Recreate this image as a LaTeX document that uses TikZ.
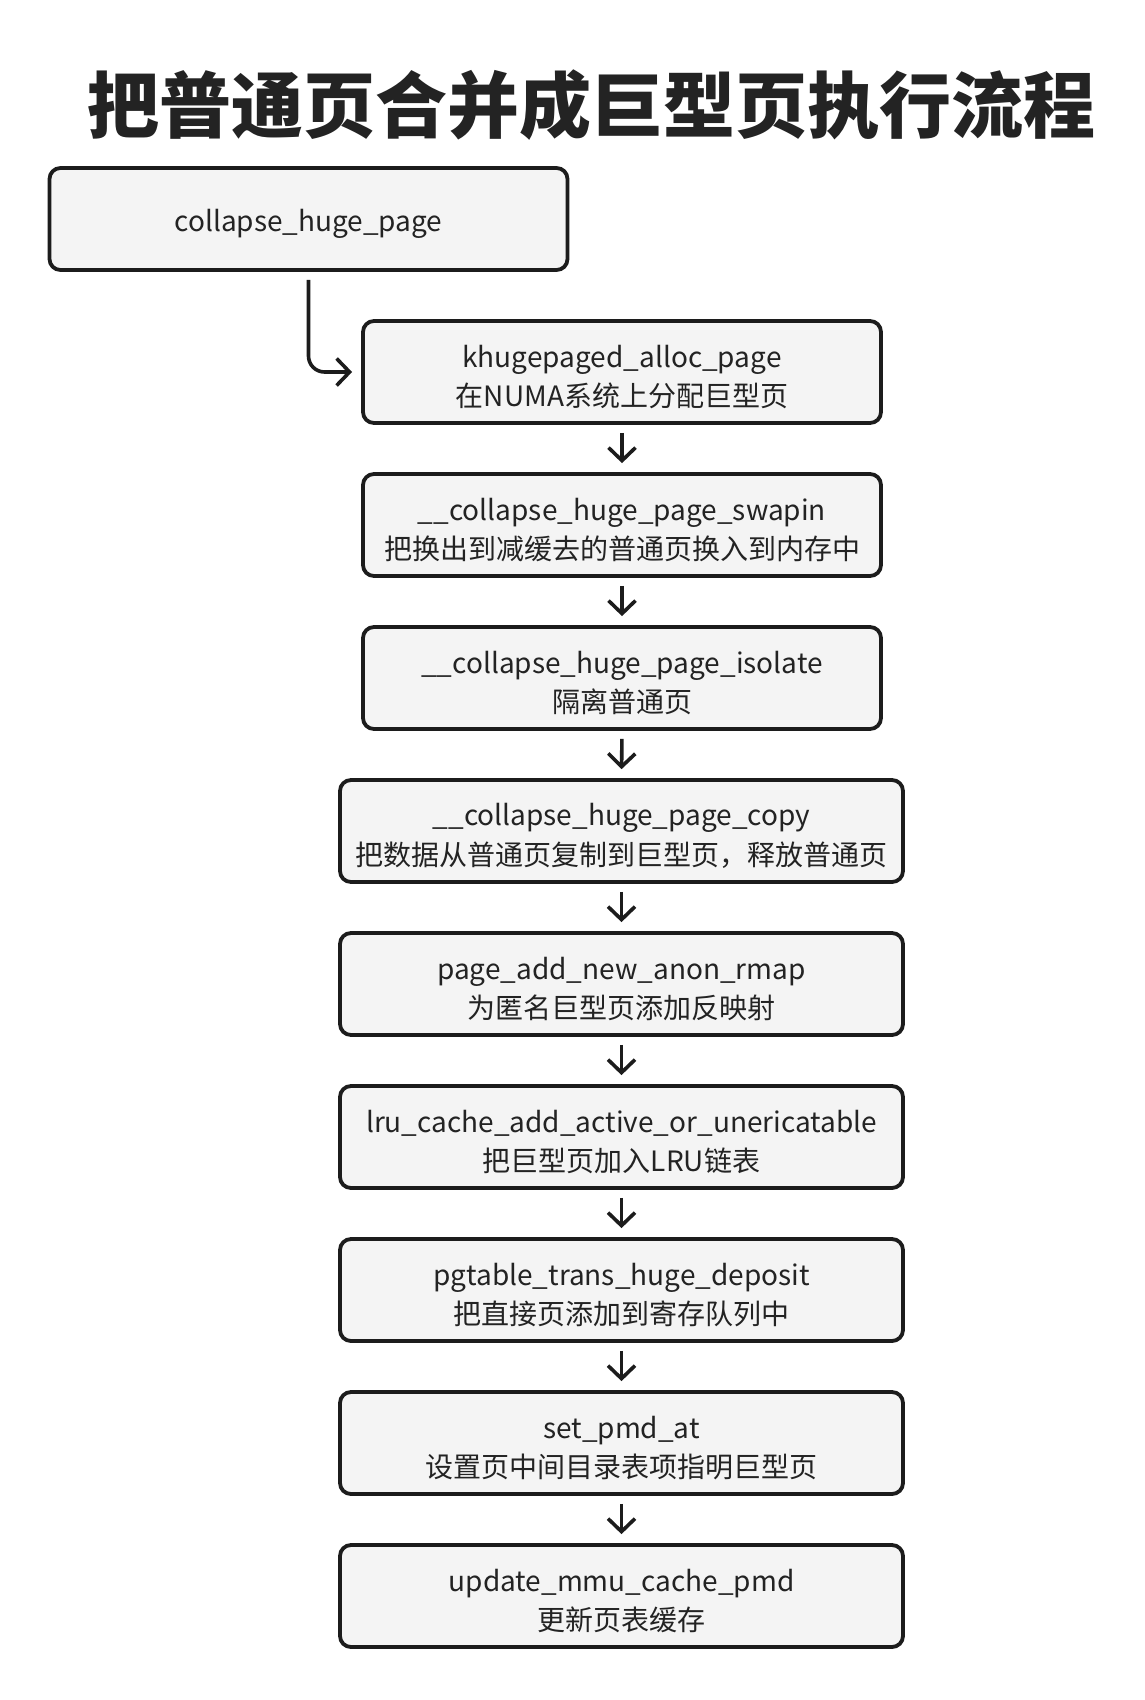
\documentclass[tikz,border=0pt]{standalone}
\usepackage{fontspec}
\setmainfont{Noto Sans CJK SC}
\usetikzlibrary{arrows.meta}
\definecolor{boxfill}{HTML}{F4F4F4}
\definecolor{ink}{HTML}{1C1C1C}
\definecolor{txt}{HTML}{232323}
% a rounded step box with its caption set slightly below the centre
\newcommand\stepnode[4]{%
  \node[#1] (#2) at (#3) {};
  \node[boxtext] (#2t) at ([yshift=-5pt]#2.center) {#4};}
\begin{document}
\begin{tikzpicture}[x=1pt,y=-1pt,
  stepbox/.style={draw=ink, line width=3.8pt, fill=boxfill, rounded corners=11pt,
    minimum height=102pt, inner sep=0pt},
  narrowbox/.style={stepbox, minimum width=518pt},
  widebox/.style={stepbox, minimum width=563pt},
  boxtext/.style={align=center, text=txt, inner sep=0pt,
    font=\fontsize{28}{39.5}\selectfont},
  flow/.style={draw=ink, line width=3.6pt,
    -{Straight Barb[length=13pt,width=27pt,line width=3.6pt]},
    shorten <=8pt, shorten >=9pt}
]
  % page
  \fill[white] (0,0) rectangle (1144,1700);
  \useasboundingbox (0,0) rectangle (1144,1700);

  % heading
  \node[text=txt, font=\fontsize{72}{80}\selectfont\bfseries, inner sep=0pt]
    (title) at (591,105) {把普通页合并成巨型页执行流程};

  % steps
  \stepnode{narrowbox}{b1}{308.5,219}{collapse\_huge\_page}
  \stepnode{narrowbox}{b2}{622,372}{khugepaged\_alloc\_page\\在NUMA系统上分配巨型页}
  \stepnode{narrowbox}{b3}{622,525}{\_\_collapse\_huge\_page\_swapin\\把换出到减缓去的普通页换入到内存中}
  \stepnode{narrowbox}{b4}{622,678}{\_\_collapse\_huge\_page\_isolate\\隔离普通页}
  \stepnode{widebox}{b5}{621.5,831}{\_\_collapse\_huge\_page\_copy\\把数据从普通页复制到巨型页，释放普通页}
  \stepnode{widebox}{b6}{621.5,984}{page\_add\_new\_anon\_rmap\\为匿名巨型页添加反映射}
  \stepnode{widebox}{b7}{621.5,1137}{lru\_cache\_add\_active\_or\_unericatable\\把巨型页加入LRU链表}
  \stepnode{widebox}{b8}{621.5,1290}{pgtable\_trans\_huge\_deposit\\把直接页添加到寄存队列中}
  \stepnode{widebox}{b9}{621.5,1443}{set\_pmd\_at\\设置页中间目录表项指明巨型页}
  \stepnode{widebox}{b10}{621.5,1596}{update\_mmu\_cache\_pmd\\更新页表缓存}

  % connectors
  \draw[flow, rounded corners=16pt] (b1.south) |- (b2.west);
  \foreach \a/\b in {b2/b3,b3/b4,b4/b5,b5/b6,b6/b7,b7/b8,b8/b9,b9/b10}
    \draw[flow] (\a.south) -- (\b.north);
\end{tikzpicture}
\end{document}
